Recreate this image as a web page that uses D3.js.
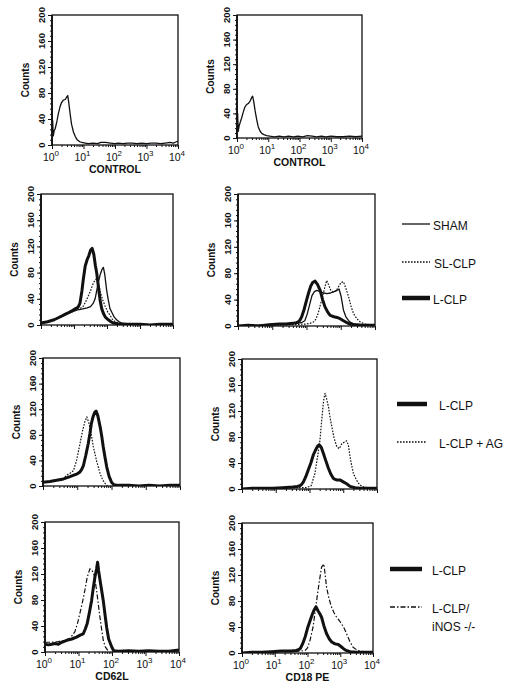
<!DOCTYPE html>
<html><head><meta charset="utf-8">
<script src="https://cdn.jsdelivr.net/npm/d3@7"></script>
<style>body{margin:0;background:#fff}svg{display:block}</style>
</head><body>
<svg id="c" width="515" height="688"></svg>
<script>
// ---------- DATA (x values are log10 of fluorescence, y values are counts) ----------
const yTickValues = [0, 40, 80, 120, 160, 200];
const xDecades = [0, 1, 2, 3, 4];

// Row 1: controls
const ctrlL_log = [0,0.01,0.02,0.04,0.07,0.1,0.15,0.2,0.25,0.3,0.36,0.42,0.47,0.5,0.53,0.57,0.62,0.68,0.74,0.8,0.88,0.95,1.05,1.15,1.3,1.45,1.55,1.7,1.85,2.0,2.1,2.25,2.4,2.55,2.7,2.85,3.0,3.15,3.3,3.45,3.6,3.75,3.85,3.95,4.0];
const ctrlL_cnt = [52,20,38,14,22,25,35,48,58,65,69,70,74,76,66,50,32,20,13,8,5,4,3,2,3,2,4,4,3,2,3,2,3,3,2,3,2,3,3,2,3,4,3,5,6];
const ctrlR_log = [0,0.01,0.02,0.04,0.07,0.1,0.15,0.2,0.25,0.3,0.36,0.42,0.47,0.5,0.54,0.58,0.63,0.68,0.74,0.8,0.88,0.95,1.05,1.2,1.35,1.5,1.65,1.8,1.95,2.1,2.25,2.4,2.55,2.7,2.85,3.0,3.2,3.4,3.6,3.8,4.0];
const ctrlR_cnt = [54,15,40,11,20,25,33,42,50,54,56,60,66,68,58,44,30,18,11,7,5,4,3,2,3,2,3,2,3,2,4,3,2,3,2,3,2,2,3,2,3];

// Row 2: CD62L (left) and CD18 (right) – SHAM, SL-CLP, L-CLP
const r2L_lclp_log = [0,0.2,0.4,0.6,0.8,0.95,1.05,1.12,1.18,1.24,1.28,1.34,1.4,1.45,1.5,1.55,1.6,1.65,1.69,1.74,1.79,1.84,1.89,1.95,2.04,2.12,2.19,2.3,2.5,2.7,3.0,3.3,3.6,4.0];
const r2L_lclp_cnt = [3,5,8,13,18,22,25,27,33,52,69,90,100,106,114,117,108,90,79,58,38,25,18,12,8,5,3,2,1,1,1,0,1,1];
const r2L_sham_log = [0,0.2,0.4,0.6,0.8,1.0,1.1,1.2,1.3,1.4,1.5,1.58,1.64,1.69,1.74,1.8,1.85,1.89,1.93,1.99,2.04,2.09,2.16,2.22,2.29,2.37,2.44,2.6,2.8,3.1,3.5,4.0];
const r2L_sham_cnt = [3,5,8,12,17,21,23,24,25,26,28,33,40,53,66,78,85,88,78,53,38,25,18,12,8,5,3,2,1,1,0,1];
const r2L_slclp_log = [0,0.3,0.6,0.9,1.1,1.2,1.27,1.35,1.42,1.5,1.57,1.63,1.69,1.74,1.8,1.87,1.95,2.02,2.09,2.16,2.25,2.4,2.7,3.0,3.5,4.0];
const r2L_slclp_cnt = [3,6,12,20,24,26,28,35,43,52,62,68,71,65,50,38,28,20,15,9,5,3,1,1,0,1];

const r2R_lclp_log = [0,0.3,0.6,0.9,1.2,1.4,1.6,1.7,1.76,1.81,1.86,1.93,2.0,2.06,2.12,2.18,2.25,2.32,2.4,2.47,2.54,2.62,2.69,2.8,2.89,2.98,3.08,3.18,3.27,3.4,3.6,3.8,4.0];
const r2R_lclp_cnt = [0,1,0,2,3,3,4,5,6,9,14,25,39,50,60,66,68,63,54,40,29,21,16,14,13,11,8,5,3,2,1,1,1];
const r2R_sham_log = [0,0.5,1.0,1.4,1.7,1.85,1.95,2.02,2.09,2.16,2.23,2.3,2.4,2.5,2.6,2.7,2.8,2.89,2.95,3.01,3.08,3.15,3.23,3.3,3.4,3.6,3.8,4.0];
const r2R_sham_cnt = [0,1,2,3,4,5,8,18,32,46,52,54,52,50,49,50,52,54,56,45,24,14,8,5,3,2,1,1];
const r2R_slclp_log = [0,0.5,1.0,1.5,2.0,2.1,2.2,2.27,2.34,2.42,2.49,2.55,2.59,2.64,2.7,2.78,2.86,2.94,3.01,3.08,3.15,3.23,3.3,3.37,3.47,3.57,3.7,3.85,4.0];
const r2R_slclp_cnt = [0,1,1,2,3,4,6,10,19,35,49,62,69,63,55,51,53,60,66,67,57,44,30,19,11,6,3,2,1];

// Row 3: L-CLP vs L-CLP + AG
const r3L_lclp_log = [0,0.2,0.4,0.6,0.75,0.9,1.0,1.08,1.13,1.18,1.25,1.32,1.37,1.41,1.46,1.51,1.55,1.6,1.67,1.72,1.76,1.81,1.86,1.93,2.0,2.07,2.2,2.5,2.8,3.1,3.4,3.7,4.0];
const r3L_lclp_cnt = [6,7,9,11,14,17,19,22,26,32,48,66,82,97,108,115,117,110,92,76,61,45,30,15,6,2,1,1,0,1,0,1,1];
const r3L_ag_log = [0.5,0.6,0.69,0.79,0.89,0.98,1.08,1.15,1.22,1.28,1.33,1.38,1.47,1.57,1.67,1.74,1.81,1.88];
const r3L_ag_cnt = [9,11,17,20,24,40,66,85,100,108,100,90,61,38,19,10,4,0];
const r3R_lclp_log = [0,0.3,0.6,0.9,1.2,1.5,1.65,1.75,1.82,1.89,1.96,2.04,2.11,2.18,2.24,2.29,2.35,2.41,2.48,2.56,2.63,2.71,2.8,2.9,3.0,3.1,3.2,3.35,3.5,3.7,4.0];
const r3R_lclp_cnt = [0,1,1,1,2,3,4,6,11,19,29,40,52,60,66,68,64,55,44,32,23,16,14,14,11,8,4,2,1,1,1];
const r3R_ag_log = [0,0.5,1.0,1.5,1.9,2.05,2.16,2.24,2.31,2.36,2.4,2.43,2.46,2.5,2.56,2.61,2.66,2.73,2.81,2.88,2.96,3.03,3.1,3.15,3.2,3.25,3.3,3.38,3.45,3.55,3.7,3.85,4.0];
const r3R_ag_cnt = [0,1,1,2,2,5,24,50,75,105,127,140,147,140,127,110,96,78,65,62,70,72,74,68,50,36,24,15,9,4,2,1,1];

// Row 4: L-CLP vs L-CLP/iNOS -/-
const r4L_lclp_log = [0,0.1,0.2,0.3,0.4,0.5,0.65,0.8,0.94,1.05,1.14,1.2,1.26,1.33,1.39,1.44,1.49,1.54,1.57,1.6,1.65,1.7,1.74,1.79,1.84,1.9,1.99,2.05,2.2,2.5,2.8,3.1,3.4,3.7,4.0];
const r4L_lclp_cnt = [12,11,12,13,12,15,18,20,23,26,28,35,44,62,79,98,115,128,138,125,108,92,79,58,38,20,8,2,1,2,1,2,1,1,3];
const r4L_inos_log = [0,0.2,0.4,0.6,0.75,0.89,0.97,1.04,1.12,1.19,1.26,1.34,1.4,1.47,1.54,1.6,1.64,1.69,1.74,1.8,1.88];
const r4L_inos_cnt = [15,15,16,18,21,31,44,59,77,95,115,128,126,118,95,70,54,35,18,8,2];
const r4R_lclp_log = [0,0.3,0.6,0.9,1.2,1.5,1.65,1.72,1.78,1.85,1.93,2.0,2.08,2.15,2.21,2.26,2.32,2.38,2.43,2.5,2.58,2.66,2.74,2.84,2.94,3.02,3.09,3.18,3.3,3.5,3.7,4.0];
const r4R_lclp_cnt = [0,1,1,2,3,3,4,5,7,14,25,38,50,60,67,71,65,60,55,42,30,22,17,14,13,10,7,4,2,1,1,1];
const r4R_inos_log = [0,0.5,1.0,1.5,1.8,1.93,2.0,2.08,2.17,2.28,2.36,2.43,2.5,2.54,2.58,2.65,2.73,2.81,2.89,2.97,3.04,3.12,3.19,3.29,3.39,3.5,3.6,3.75,3.9,4.0];
const r4R_inos_cnt = [0,1,2,2,3,4,8,20,40,81,110,132,137,120,102,85,71,62,55,50,45,38,30,18,9,5,3,2,1,2];

const xTitles = ["CONTROL", "CONTROL", "CD62L", "CD18 PE"];
const legend2 = ["SHAM", "SL-CLP", "L-CLP"];
const legend3 = ["L-CLP", "L-CLP + AG"];
const legend4 = ["L-CLP", ["L-CLP/", "iNOS -/-"]];

// ---------- STYLES ----------
const ST = {
  thin:   {w: 1.3, dash: null},
  dot:    {w: 1.2, dash: "1.6,1.4"},
  thick:  {w: 3.0, dash: null},
  dashdot:{w: 1.2, dash: "5,2,1.5,2"}
};

// ---------- LAYOUT ----------
const panels = [
  {l:52,  r:178, t:15,  b:145, labels:true, title:xTitles[0], curves:[[ctrlL_log,ctrlL_cnt,"thin"]]},
  {l:237, r:362, t:15,  b:138, labels:true, title:xTitles[1], curves:[[ctrlR_log,ctrlR_cnt,"thin"]]},
  {l:41,  r:173, t:194, b:325, curves:[[r2L_sham_log,r2L_sham_cnt,"thin"],[r2L_slclp_log,r2L_slclp_cnt,"dot"],[r2L_lclp_log,r2L_lclp_cnt,"thick"]]},
  {l:238, r:375, t:194, b:326, curves:[[r2R_sham_log,r2R_sham_cnt,"thin"],[r2R_slclp_log,r2R_slclp_cnt,"dot"],[r2R_lclp_log,r2R_lclp_cnt,"thick"]]},
  {l:43,  r:180, t:358, b:486, curves:[[r3L_ag_log,r3L_ag_cnt,"dot"],[r3L_lclp_log,r3L_lclp_cnt,"thick"]]},
  {l:242, r:377, t:359, b:489, curves:[[r3R_ag_log,r3R_ag_cnt,"dot"],[r3R_lclp_log,r3R_lclp_cnt,"thick"]]},
  {l:45,  r:179, t:522, b:652, labels:true, title:xTitles[2], curves:[[r4L_inos_log,r4L_inos_cnt,"dashdot"],[r4L_lclp_log,r4L_lclp_cnt,"thick"]]},
  {l:242, r:373, t:523, b:653, labels:true, title:xTitles[3], curves:[[r4R_inos_log,r4R_inos_cnt,"dashdot"],[r4R_lclp_log,r4R_lclp_cnt,"thick"]]}
];

const FONT = "'Liberation Sans', Arial, Helvetica, sans-serif";
const svg = d3.select("#c");
const defs = svg.append("defs");

panels.forEach((p, pi) => {
  const g = svg.append("g");
  const x = d3.scaleLog().domain([1, 1e4]).range([p.l, p.r]);
  const y = d3.scaleLinear().domain([0, 200]).range([p.b, p.t]);

  defs.append("clipPath").attr("id", "clip" + pi)
    .append("rect").attr("x", p.l).attr("y", p.t - 1).attr("width", p.r - p.l).attr("height", p.b - p.t + 1);

  const line = d3.line().x(d => x(d[0])).y(d => y(d[1]));
  p.curves.forEach(([lg, cnt, st]) => {
    const pts = lg.map((e, i) => [Math.pow(10, e), cnt[i]]);
    const s = ST[st];
    g.append("path").attr("d", line(pts)).attr("clip-path", `url(#clip${pi})`)
      .attr("fill", "none").attr("stroke", "#111").attr("stroke-width", s.w)
      .attr("stroke-linejoin", "round").attr("stroke-dasharray", s.dash);
  });

  // y axis: minor and major ticks
  const yMinor = d3.range(0, 201, 8);
  const ya = g.append("g").attr("transform", `translate(${p.l},0)`)
    .call(d3.axisLeft(y).tickValues(yMinor).tickSize(2).tickFormat(""));
  ya.select(".domain").remove();
  const yb = g.append("g").attr("transform", `translate(${p.l},0)`)
    .call(d3.axisLeft(y).tickValues(yTickValues).tickSize(4).tickFormat(""));
  yb.select(".domain").remove();
  g.selectAll(".tick line").attr("stroke", "#111").attr("stroke-width", 1);

  yTickValues.forEach(v => {
    g.append("text").attr("transform", `translate(${p.l - 11},${y(v)}) rotate(-90)`)
      .attr("text-anchor", "middle").attr("dominant-baseline", "central")
      .attr("font-family", FONT).attr("font-size", 9.5).attr("font-weight", "bold").attr("fill", "#111").text(v);
  });
  g.append("text").attr("transform", `translate(${p.l - 27},${(p.t + p.b) / 2}) rotate(-90)`)
    .attr("text-anchor", "middle").attr("dominant-baseline", "central")
    .attr("font-family", FONT).attr("font-size", 10).attr("font-weight", "bold").attr("fill", "#111").text("Counts");

  // x axis: log ticks
  const xMajor = xDecades.map(d => Math.pow(10, d));
  const xMinor = [];
  xDecades.slice(0, -1).forEach(d => { for (let k = 2; k <= 9; k++) xMinor.push(k * Math.pow(10, d)); });
  const xa = g.append("g").attr("transform", `translate(0,${p.b})`)
    .call(d3.axisBottom(x).tickValues(xMinor).tickSize(2).tickFormat(""));
  xa.select(".domain").remove();
  const xb = g.append("g").attr("transform", `translate(0,${p.b})`)
    .call(d3.axisBottom(x).tickValues(xMajor).tickSize(4).tickFormat(""));
  xb.select(".domain").remove();
  g.selectAll(".tick line").attr("stroke", "#111");

  if (p.labels) {
    xDecades.forEach(d => {
      const t = g.append("text").attr("x", x(Math.pow(10, d)) - 1).attr("y", p.b + 16)
        .attr("text-anchor", "middle").attr("font-family", FONT).attr("font-size", 10.5).attr("fill", "#111");
      t.append("tspan").text("10");
      t.append("tspan").attr("dy", -5).attr("font-size", 8).text(d);
    });
    g.append("text").attr("x", (p.l + p.r) / 2).attr("y", p.b + 28)
      .attr("text-anchor", "middle").attr("font-family", FONT).attr("font-size", 10.5)
      .attr("font-weight", "bold").attr("fill", "#111").text(p.title);
  }

  // frame
  g.append("rect").attr("x", p.l).attr("y", p.t).attr("width", p.r - p.l).attr("height", p.b - p.t)
    .attr("fill", "none").attr("stroke", "#111").attr("stroke-width", 1.3);
  g.append("line").attr("x1", p.l).attr("x2", p.l).attr("y1", p.t).attr("y2", p.b)
    .attr("stroke", "#111").attr("stroke-width", 1.8);
});

// ---------- LEGENDS ----------
function legendItem(x1, x2, yy, st, tx, label) {
  const s = ST[st];
  svg.append("line").attr("x1", x1).attr("x2", x2).attr("y1", yy).attr("y2", yy)
    .attr("stroke", "#111").attr("stroke-width", st === "thick" ? 4.5 : (st === "dot" ? 1.6 : 1.3))
    .attr("stroke-dasharray", s.dash);
  const labels = Array.isArray(label) ? label : [label];
  labels.forEach((lb, i) => {
    svg.append("text").attr("x", tx).attr("y", yy + 6 + i * 18).attr("font-family", FONT)
      .attr("font-size", 12).attr("fill", "#111").text(lb);
  });
}
legendItem(402, 430, 224, "thin", 433, legend2[0]);
legendItem(402, 430, 262, "dot", 434, legend2[1]);
legendItem(402, 430, 298, "thick", 433, legend2[2]);

legendItem(397, 427, 404, "thick", 439, legend3[0]);
legendItem(397, 427, 442, "dot", 439, legend3[1]);

legendItem(390, 422, 569, "thick", 432, legend4[0]);
legendItem(390, 422, 607, "dashdot", 432, legend4[1]);
</script>
</body></html>
